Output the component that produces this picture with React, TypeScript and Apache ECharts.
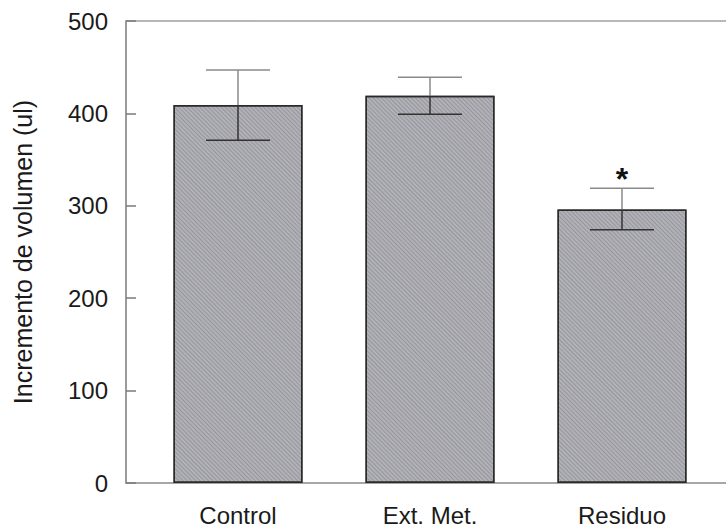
import React, { useEffect, useRef } from "react";
import * as echarts from "echarts";

const categories = ["Control", "Ext. Met.", "Residuo"];
const means = [409, 419, 296];
const upperErr = [447, 439, 319];
const lowerErr = [371, 399, 274];
const marks = ["", "", "*"];
const yMin = 0;
const yMax = 500;
const yStep = 100;

export default function App() {
  const ref = useRef<HTMLDivElement>(null);
  useEffect(() => {
    if (!ref.current) return;
    const chart = echarts.init(ref.current, null, { renderer: "svg" });
    const font = "'Liberation Sans', Arial, Helvetica, sans-serif";
    const option: any = {
      animation: false,
      backgroundColor: "#ffffff",
      grid: [
        { left: 142, right: 8, top: 21, bottom: 44 },
        { left: 126, right: 0, top: 21, bottom: 44 },
      ],
      xAxis: [
        {
          type: "category",
          gridIndex: 0,
          data: categories,
          axisLine: { show: false },
          axisTick: { show: false },
          axisLabel: { fontSize: 24, color: "#1a1a1a", margin: 20, fontFamily: font },
        },
        {
          type: "value",
          gridIndex: 1,
          min: 0,
          max: 1,
          position: "bottom",
          axisLine: { show: true, lineStyle: { color: "#8a8a8a", width: 1.5 } },
          axisTick: { show: false },
          axisLabel: { show: false },
          splitLine: { show: false },
        },
        {
          type: "value",
          gridIndex: 1,
          min: 0,
          max: 1,
          position: "top",
          axisLine: { show: true, lineStyle: { color: "#a0a0a0", width: 1.5 } },
          axisTick: { show: false },
          axisLabel: { show: false },
          splitLine: { show: false },
        },
      ],
      yAxis: [
        { type: "value", gridIndex: 0, min: yMin, max: yMax, show: false },
        {
          type: "value",
          gridIndex: 1,
          min: yMin,
          max: yMax,
          interval: yStep,
          axisLine: { show: true, lineStyle: { color: "#7a7a7a", width: 1.5 } },
          axisTick: { show: true, inside: true, length: 10, lineStyle: { color: "#7a7a7a", width: 1.5 } },
          axisLabel: { fontSize: 24, color: "#1a1a1a", margin: 18, fontFamily: font },
          splitLine: { show: false },
          name: "Incremento de volumen (ul)",
          nameLocation: "middle",
          nameGap: 91,
          nameTextStyle: { fontSize: 25, color: "#1a1a1a", fontFamily: font },
        },
      ],
      series: [
        {
          type: "bar",
          xAxisIndex: 0,
          yAxisIndex: 0,
          data: means,
          barWidth: 129,
          itemStyle: {
            color: "#b1b1b7",
            borderColor: "#2a2a2a",
            borderWidth: 1.5,
            decal: {
              symbol: "rect",
              symbolSize: 1,
              color: "rgba(80,80,90,0.28)",
              dashArrayX: [1, 0],
              dashArrayY: [1, 2],
              rotation: Math.PI / 4,
            },
          },
        },
        {
          type: "custom",
          xAxisIndex: 0,
          yAxisIndex: 0,
          z: 5,
          data: categories.map((c, i) => [i, means[i], upperErr[i], lowerErr[i]]),
          renderItem: (params: any, api: any) => {
            const x = api.value(0);
            const i = params.dataIndex;
            const m = api.coord([x, api.value(1)]);
            const u = api.coord([x, api.value(2)]);
            const l = api.coord([x, api.value(3)]);
            const hw = 32;
            const children: any[] = [
              { type: "line", shape: { x1: u[0], y1: u[1], x2: m[0], y2: m[1] }, style: { stroke: "#8a8a8a", lineWidth: 1.5 } },
              { type: "line", shape: { x1: u[0] - hw, y1: u[1], x2: u[0] + hw, y2: u[1] }, style: { stroke: "#8a8a8a", lineWidth: 1.5 } },
              { type: "line", shape: { x1: m[0], y1: m[1], x2: l[0], y2: l[1] }, style: { stroke: "#333333", lineWidth: 1.5 } },
              { type: "line", shape: { x1: l[0] - hw, y1: l[1], x2: l[0] + hw, y2: l[1] }, style: { stroke: "#333333", lineWidth: 1.5 } },
            ];
            if (marks[i]) {
              children.push({
                type: "text",
                x: u[0],
                y: u[1] - 9,
                style: {
                  text: marks[i],
                  fontSize: 32,
                  fontWeight: "bold",
                  fontFamily: font,
                  fill: "#111111",
                  align: "center",
                  verticalAlign: "middle",
                },
              });
            }
            return { type: "group", children };
          },
        },
      ],
    };
    chart.setOption(option);
    return () => chart.dispose();
  }, []);
  return <div ref={ref} style={{ width: 726, height: 527, position: "absolute", left: 0, top: 0 }} />;
}
